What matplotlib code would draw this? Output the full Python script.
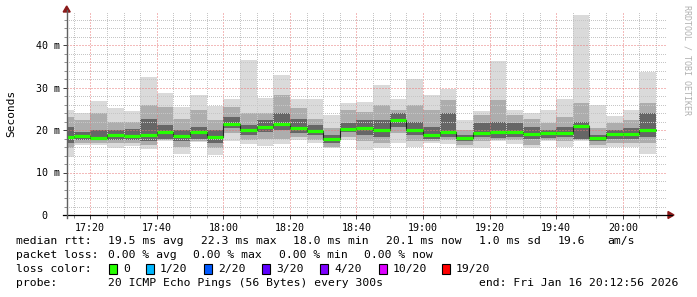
import matplotlib
matplotlib.use("Agg")
import matplotlib.pyplot as plt
from matplotlib.patches import Polygon, Rectangle
from matplotlib.lines import Line2D
import numpy as np

# ---------------- data ----------------
first_bar = "17:10"          # start of first 5-minute step
step_minutes = 5
window_start = "17:12:56"
window_end = "20:12:56"

rtt_max = [24.7, 23.9, 26.8, 25.1, 24.5, 32.5, 28.6, 25.5, 28.2, 25.6,
           27.3, 36.5, 27.5, 32.9, 27.2, 27.3, 23.5, 26.3, 26.6,
           30.6, 27.3, 31.9, 28.2, 29.6, 22.4, 24.5, 36.2, 24.7,
           24.1, 24.7, 27.3, 47.0, 26.0, 23.3, 24.7, 33.7]
rtt_hi2 = [23.1, 22.4, 23.9, 22.0, 22.0, 25.9, 25.5, 22.7, 24.7, 22.4,
           25.5, 23.9, 23.9, 28.2, 25.1, 22.7, 20.4, 24.7, 24.3,
           25.9, 24.7, 25.9, 24.7, 27.1, 20.0, 23.5, 27.1, 23.5,
           22.7, 21.6, 23.1, 26.3, 20.4, 21.6, 22.4, 26.3]
rtt_hi3 = [20.8, 19.6, 20.0, 20.0, 20.2, 22.7, 21.2, 20.0, 20.8, 20.0,
           23.1, 21.2, 22.4, 23.9, 22.7, 21.2, 18.8, 21.6, 22.4,
           22.4, 23.9, 22.0, 20.8, 23.9, 18.8, 21.6, 22.0, 21.6,
           20.8, 20.0, 20.8, 22.0, 18.8, 20.0, 20.4, 23.9]
rtt_median = [18.4, 18.6, 18.2, 18.8, 18.6, 18.8, 19.5, 18.6, 19.6, 18.4,
              21.4, 20.0, 20.6, 21.3, 20.5, 19.8, 18.0, 20.2, 20.5,
              20.0, 22.3, 20.0, 18.9, 19.5, 18.1, 19.4, 19.5, 19.5,
              19.1, 19.3, 19.2, 20.9, 18.2, 19.0, 19.1, 20.1]
rtt_lo3 = [16.9, 17.6, 17.6, 17.6, 17.6, 17.3, 18.0, 17.3, 18.0, 16.9,
           20.4, 18.8, 19.6, 20.0, 19.2, 18.8, 16.9, 19.6, 18.8,
           18.4, 20.8, 18.8, 18.0, 18.4, 17.3, 18.4, 18.2, 18.4,
           18.0, 18.2, 18.4, 18.0, 17.3, 18.0, 18.0, 18.4]
rtt_lo2 = [15.7, 17.0, 17.0, 16.9, 16.9, 16.5, 17.6, 16.1, 17.5, 15.7,
           19.2, 17.6, 18.0, 18.0, 18.4, 17.6, 16.1, 18.4, 17.3,
           16.9, 19.2, 17.3, 17.3, 17.6, 16.5, 17.3, 17.6, 17.6,
           16.5, 17.6, 17.3, 17.6, 16.5, 16.9, 16.9, 16.9]
rtt_min = [13.7, 16.5, 16.5, 15.8, 16.2, 15.6, 17.3, 14.4, 17.1, 14.1,
           17.5, 16.7, 16.2, 16.6, 17.6, 16.9, 15.7, 17.6, 15.3,
           15.7, 17.0, 16.1, 16.9, 16.6, 15.8, 15.7, 17.3, 16.6,
           15.7, 17.3, 15.9, 17.3, 15.8, 15.9, 15.9, 14.4]

x_tick_labels = ["17:20", "17:40", "18:00", "18:20", "18:40", "19:00",
                 "19:20", "19:40", "20:00"]
y_tick_values = [0, 10, 20, 30, 40]
y_tick_labels = ["0  ", "10 m", "20 m", "30 m", "40 m"]

loss_labels = ["0", "1/20", "2/20", "3/20", "4/20", "10/20", "19/20"]
loss_colors = ["#26ff00", "#00b8ff", "#0059ff", "#5e00ff", "#7e00ff",
               "#dd00ff", "#ff0000"]

legend_rows = [
    [("median rtt:", 16), ("19.5 ms avg", 108), ("22.3 ms max", 201),
     ("18.0 ms min", 293), ("20.1 ms now", 386), ("1.0 ms sd", 479),
     ("19.6", 558), ("am/s", 607)],
    [("packet loss:", 16), ("0.00 % avg", 108), ("0.00 % max", 193),
     ("0.00 % min", 279), ("0.00 % now", 364)],
]
probe_text = "20 ICMP Echo Pings (56 Bytes) every 300s"
end_text = "end: Fri Jan 16 20:12:56 2026"


def to_min(s):
    parts = [int(p) for p in s.split(":")]
    while len(parts) < 3:
        parts.append(0)
    return parts[0] * 60 + parts[1] + parts[2] / 60.0


# ---------------- figure ----------------
W, H = 697, 297
fig = plt.figure(figsize=(W / 100, H / 100), dpi=100)
fig.patch.set_facecolor("white")

x0_px, x1_px = 66.7, 665.8
y0_px, y1_px = 215, 11
ax = fig.add_axes([x0_px / W, 1 - y0_px / H, (x1_px - x0_px) / W, (y0_px - y1_px) / H])
ax.set_facecolor("white")

n = len(rtt_median)
starts = to_min(first_bar) + step_minutes * np.arange(n)
mx = np.array(rtt_max); mn = np.array(rtt_min)
h2 = np.array(rtt_hi2); l2 = np.array(rtt_lo2)
h3 = np.array(rtt_hi3); l3 = np.array(rtt_lo3)
med = np.array(rtt_median)

ax.bar(starts, mx - mn, bottom=mn, width=step_minutes, align="edge",
       color="#dadada", linewidth=0, zorder=1)
ax.bar(starts, h2 - l2, bottom=l2, width=step_minutes, align="edge",
       color="#adadad", linewidth=0, zorder=1.1)
ax.bar(starts, h3 - l3, bottom=l3, width=step_minutes, align="edge",
       color="#666666", linewidth=0, zorder=1.2)

# median: dark step connector + loss-coloured segments
edges = np.append(starts, starts[-1] + step_minutes)
ax.step(edges, np.append(med, med[-1]), where="post", color="#202020",
        lw=0.8, zorder=3)
ax.hlines(med, starts, starts + step_minutes, colors=loss_colors[0],
          lw=2.3, zorder=3.1)

xmin, xmax = to_min(window_start), to_min(window_end)
ax.set_xlim(xmin, xmax)
ax.set_ylim(0, 48)

major_x = [to_min(t) for t in x_tick_labels]
ax.set_xticks(major_x)
ax.set_xticklabels(x_tick_labels)
minor_x = [m for m in np.arange(np.ceil(xmin / 5) * 5, xmax, 5)
           if all(abs(m - M) > 0.01 for M in major_x)]
ax.set_xticks(minor_x, minor=True)
ax.set_yticks(y_tick_values)
ax.set_yticklabels(y_tick_labels)
ax.set_yticks([v for v in np.arange(0, 48, 2) if v % 10], minor=True)

mono = "DejaVu Sans Mono"
for lab in ax.get_xticklabels() + ax.get_yticklabels():
    lab.set_fontfamily(mono)
    lab.set_fontsize(7.2)
ax.tick_params(axis="both", which="major", length=3, width=0.7, color="#404040", pad=2)
ax.tick_params(axis="both", which="minor", length=2, width=0.7, color="#909090")
ax.tick_params(axis="x", pad=3)

ax.set_axisbelow(False)
ax.grid(which="minor", color="#c6c6c6", lw=0.72, linestyle=(0, (1, 2)),
        zorder=4, antialiased=False)
ax.grid(which="major", color="#e87878", lw=0.72, linestyle=(0, (1, 2)),
        zorder=4.5, antialiased=True)
for sp in ax.spines.values():
    sp.set_visible(False)


def fx(px):
    return px / W


def fy(py):
    return 1 - py / H


# axis lines and arrows
fig.add_artist(Line2D([fx(63), fx(672)], [fy(215), fy(215)], color="black", lw=0.9))
fig.add_artist(Line2D([fx(66.7), fx(66.7)], [fy(218), fy(10)], color="#606060", lw=1.0))
fig.add_artist(Polygon([[fx(668), fy(211.5)], [fx(674), fy(215)], [fx(668), fy(218.5)]],
                       closed=True, color="#8b1a1a", transform=fig.transFigure))
fig.add_artist(Polygon([[fx(63.2), fy(12)], [fx(66.7), fy(6)], [fx(70.2), fy(12)]],
                       closed=True, color="#8b1a1a", transform=fig.transFigure))

fig.text(fx(11), fy(113), "Seconds", rotation=90, ha="center", va="center",
         family=mono, fontsize=8)
fig.text(fx(687), fy(5), "RRDTOOL / TOBI OETIKER", rotation=270, ha="center",
         va="top", family=mono, fontsize=6, color="#b0b0b0")

fs = 8.2
row_y = [241, 255, 269, 283]
for r, items in enumerate(legend_rows):
    for txt, xp in items:
        fig.text(fx(xp), fy(row_y[r]), txt, family=mono, fontsize=fs,
                 ha="left", va="center")

fig.text(fx(16), fy(row_y[2]), "loss color:", family=mono, fontsize=fs,
         ha="left", va="center")
box_x = [109, 146, 204, 262, 320, 379, 442]
for lab, col, bx in zip(loss_labels, loss_colors, box_x):
    fig.add_artist(Rectangle((fx(bx), fy(row_y[2] + 5)), 8 / W, 10 / H,
                             facecolor=col, edgecolor="black", lw=0.8,
                             transform=fig.transFigure))
    fig.text(fx(bx + 14), fy(row_y[2]), lab, family=mono, fontsize=fs,
             ha="left", va="center")

fig.text(fx(16), fy(row_y[3]), "probe:", family=mono, fontsize=fs, ha="left", va="center")
fig.text(fx(108), fy(row_y[3]), probe_text, family=mono, fontsize=fs, ha="left", va="center")
fig.text(fx(479), fy(row_y[3]), end_text, family=mono, fontsize=fs, ha="left", va="center")

fig.savefig("out.png", dpi=100)
